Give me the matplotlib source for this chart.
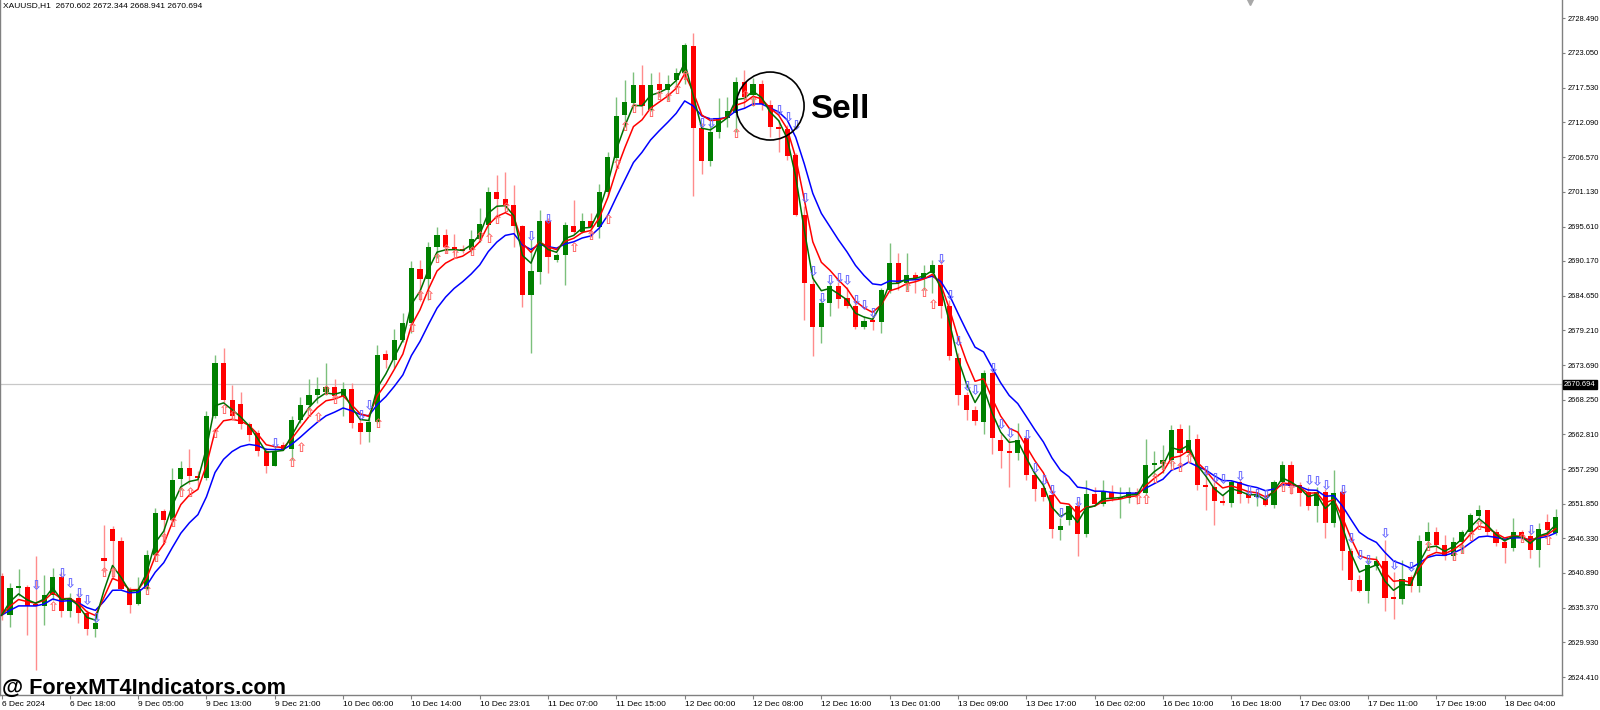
from matplotlib import pyplot as plt
from matplotlib.patches import Ellipse
import matplotlib.transforms as mtransforms
import pandas as pd

# XAUUSD H1 candles (oldest first)
opens = [2640.4, 2634.2, 2638.5, 2638.6, 2635.9, 2635.6, 2637.4, 2640.3, 2634.8, 2637.0,
         2634.6, 2632.0, 2643.2, 2647.8, 2646.0, 2638.3, 2635.9, 2638.3, 2643.7, 2650.6,
         2649.3, 2655.7, 2657.4, 2656.2, 2655.9, 2665.6, 2674.0, 2668.2, 2667.6, 2664.4,
         2663.0, 2660.1, 2657.8, 2661.1, 2660.4, 2665.0, 2667.4, 2669.0, 2669.5, 2670.2,
         2668.9, 2669.9, 2664.6, 2663.2, 2664.8, 2675.4, 2674.5, 2677.7, 2680.3, 2688.9,
         2687.4, 2692.3, 2694.3, 2692.4, 2692.0, 2691.9, 2693.6, 2695.9, 2701.1, 2699.9,
         2699.0, 2695.7, 2684.8, 2688.5, 2696.5, 2690.4, 2691.1, 2695.7, 2694.7, 2696.5,
         2695.6, 2701.0, 2706.4, 2713.2, 2715.2, 2718.0, 2714.1, 2718.1, 2717.2, 2718.7,
         2719.8, 2724.1, 2711.1, 2706.0, 2710.6, 2712.7, 2713.6, 2718.5, 2716.4, 2718.1,
         2714.8, 2711.4, 2711.0, 2706.9, 2697.4, 2686.6, 2679.7, 2683.5, 2686.2, 2684.3,
         2683.1, 2679.8, 2680.9, 2680.6, 2685.6, 2689.9, 2686.7, 2688.0, 2687.5, 2688.2,
         2689.5, 2683.1, 2674.8, 2669.0, 2666.7, 2664.8, 2672.4, 2661.9, 2660.1, 2659.8,
         2662.2, 2656.4, 2654.3, 2653.2, 2647.6, 2649.3, 2651.4, 2647.1, 2653.4, 2651.8,
         2653.7, 2652.5, 2652.8, 2653.6, 2653.5, 2658.0, 2658.1, 2658.8, 2663.6, 2659.9,
         2662.0, 2654.8, 2654.4, 2652.2, 2652.0, 2655.3, 2653.4, 2652.9, 2652.5, 2651.6,
         2655.2, 2657.9, 2654.8, 2653.6, 2651.5, 2653.7, 2648.8, 2653.7, 2644.3, 2639.7,
         2638.1, 2642.0, 2642.7, 2637.1, 2636.7, 2640.2, 2638.8, 2646.0, 2647.3, 2645.3,
         2643.5, 2645.8, 2647.3, 2649.9, 2650.8, 2647.3, 2645.7, 2644.9, 2647.4, 2646.7,
         2644.5, 2648.9, 2647.2]
highs = [2640.9, 2639.3, 2641.5, 2638.9, 2643.5, 2640.6, 2641.6, 2641.1, 2637.7, 2637.7,
         2635.0, 2633.7, 2648.5, 2648.3, 2646.6, 2638.7, 2640.3, 2644.5, 2651.1, 2651.0,
         2657.4, 2658.5, 2660.4, 2657.0, 2666.4, 2675.3, 2676.4, 2670.6, 2669.4, 2664.8,
         2663.5, 2660.6, 2660.9, 2661.6, 2665.6, 2668.7, 2671.5, 2671.8, 2674.0, 2671.6,
         2671.0, 2670.9, 2665.3, 2665.6, 2676.9, 2676.1, 2679.4, 2681.9, 2690.2, 2690.4,
         2693.2, 2695.6, 2695.3, 2694.5, 2692.7, 2695.1, 2698.5, 2701.9, 2703.7, 2704.3,
         2702.2, 2695.9, 2693.5, 2698.3, 2696.9, 2691.4, 2696.4, 2699.8, 2697.7, 2697.7,
         2702.3, 2707.4, 2716.1, 2718.7, 2720.1, 2721.1, 2719.8, 2720.1, 2719.6, 2720.6,
         2724.6, 2726.2, 2711.9, 2711.9, 2715.9, 2716.1, 2719.3, 2720.4, 2719.0, 2718.8,
         2715.6, 2712.4, 2711.7, 2707.2, 2698.8, 2687.7, 2684.3, 2686.9, 2686.9, 2686.1,
         2684.0, 2681.4, 2681.6, 2685.9, 2693.0, 2691.5, 2691.4, 2688.5, 2689.5, 2690.3,
         2690.3, 2684.0, 2675.6, 2669.5, 2667.2, 2672.9, 2672.9, 2662.9, 2662.2, 2664.5,
         2662.4, 2656.9, 2654.8, 2653.7, 2649.5, 2651.6, 2652.2, 2655.6, 2654.5, 2655.6,
         2654.8, 2654.5, 2654.5, 2654.3, 2662.0, 2660.1, 2661.1, 2664.3, 2664.4, 2664.3,
         2662.9, 2656.9, 2655.3, 2653.2, 2655.6, 2655.8, 2654.0, 2653.7, 2653.2, 2655.6,
         2658.6, 2658.5, 2655.3, 2654.4, 2654.5, 2654.1, 2657.2, 2654.3, 2644.8, 2640.6,
         2643.0, 2643.5, 2646.1, 2641.1, 2642.9, 2640.6, 2646.9, 2649.0, 2648.2, 2646.9,
         2646.6, 2647.7, 2650.3, 2651.6, 2650.8, 2647.9, 2646.1, 2649.5, 2647.7, 2647.9,
         2648.7, 2650.2, 2651.0]
lows = [2633.5, 2632.3, 2637.2, 2631.1, 2625.6, 2632.7, 2636.6, 2634.0, 2634.0, 2632.9,
        2631.1, 2630.8, 2641.0, 2640.0, 2638.2, 2634.5, 2635.8, 2638.2, 2643.0, 2645.5,
        2648.5, 2654.0, 2655.0, 2654.5, 2655.6, 2665.3, 2667.7, 2665.1, 2663.6, 2661.8,
        2659.3, 2656.7, 2657.7, 2660.3, 2658.7, 2664.5, 2666.6, 2667.7, 2669.0, 2668.5,
        2665.6, 2663.8, 2661.3, 2661.6, 2664.6, 2673.2, 2673.2, 2677.4, 2678.8, 2683.8,
        2684.0, 2690.6, 2691.4, 2691.1, 2691.4, 2691.4, 2693.2, 2694.3, 2696.9, 2698.2,
        2692.4, 2682.9, 2675.6, 2686.6, 2688.2, 2690.0, 2686.4, 2694.5, 2694.6, 2694.0,
        2693.8, 2700.5, 2705.9, 2711.4, 2714.3, 2713.2, 2713.8, 2716.1, 2715.6, 2717.4,
        2718.2, 2700.4, 2703.9, 2705.1, 2709.6, 2711.4, 2710.6, 2714.4, 2714.7, 2714.0,
        2709.8, 2707.4, 2706.1, 2697.2, 2680.9, 2675.1, 2677.2, 2681.4, 2682.7, 2682.7,
        2679.5, 2679.4, 2679.3, 2678.8, 2685.1, 2685.6, 2685.6, 2685.1, 2685.6, 2685.1,
        2681.1, 2674.5, 2667.4, 2665.1, 2664.3, 2662.9, 2659.7, 2657.4, 2654.5, 2658.7,
        2655.6, 2652.2, 2652.2, 2646.4, 2646.1, 2648.5, 2643.5, 2646.6, 2651.5, 2651.4,
        2652.3, 2649.5, 2652.0, 2651.8, 2653.2, 2656.4, 2656.6, 2657.7, 2657.7, 2659.5,
        2654.0, 2650.8, 2648.5, 2651.6, 2651.3, 2652.0, 2652.0, 2651.4, 2651.5, 2651.1,
        2654.4, 2653.4, 2651.4, 2650.8, 2649.0, 2646.4, 2648.2, 2641.4, 2638.1, 2637.9,
        2636.2, 2641.4, 2634.8, 2633.6, 2636.0, 2637.9, 2637.8, 2645.0, 2644.4, 2642.9,
        2642.9, 2644.1, 2646.6, 2649.5, 2646.9, 2645.2, 2642.5, 2644.4, 2646.1, 2643.2,
        2641.9, 2646.9, 2646.9]
closes = [2634.2, 2638.5, 2638.8, 2635.7, 2635.6, 2637.4, 2640.3, 2634.8, 2637.0, 2634.6,
          2632.0, 2633.0, 2642.8, 2646.0, 2638.3, 2635.8, 2638.3, 2643.7, 2650.4, 2649.3,
          2655.6, 2657.4, 2656.2, 2655.9, 2665.6, 2674.0, 2668.2, 2665.6, 2664.4, 2662.7,
          2660.1, 2657.8, 2660.2, 2660.4, 2665.0, 2667.4, 2669.0, 2669.9, 2670.2, 2668.9,
          2669.9, 2664.6, 2663.2, 2664.8, 2675.3, 2674.5, 2677.7, 2680.3, 2689.0, 2687.4,
          2692.3, 2694.3, 2692.3, 2692.0, 2691.7, 2693.6, 2696.0, 2701.1, 2699.9, 2699.0,
          2695.7, 2684.8, 2688.6, 2696.5, 2690.8, 2691.1, 2695.9, 2694.7, 2696.5, 2695.6,
          2701.0, 2706.6, 2713.1, 2715.3, 2718.0, 2714.6, 2718.0, 2717.2, 2718.1, 2719.9,
          2724.3, 2711.1, 2706.0, 2710.6, 2712.7, 2713.8, 2718.5, 2716.1, 2718.1, 2715.0,
          2711.4, 2711.0, 2706.7, 2697.4, 2686.7, 2679.8, 2683.5, 2686.2, 2684.1, 2683.1,
          2679.8, 2680.7, 2680.6, 2685.6, 2689.9, 2686.7, 2688.0, 2687.5, 2688.2, 2689.5,
          2683.1, 2675.1, 2669.0, 2666.7, 2664.9, 2672.4, 2662.2, 2660.1, 2659.9, 2661.9,
          2656.4, 2654.1, 2652.9, 2647.8, 2648.3, 2651.4, 2647.1, 2653.4, 2651.8, 2653.7,
          2652.8, 2652.9, 2653.6, 2653.4, 2657.9, 2658.2, 2658.8, 2663.5, 2659.9, 2661.9,
          2654.8, 2654.5, 2652.2, 2652.0, 2655.3, 2653.4, 2652.7, 2653.2, 2651.6, 2655.3,
          2657.9, 2654.6, 2653.5, 2651.5, 2653.7, 2648.8, 2653.5, 2644.3, 2639.8, 2638.0,
          2642.2, 2642.7, 2637.0, 2636.7, 2640.0, 2638.8, 2646.0, 2647.4, 2645.3, 2643.5,
          2645.8, 2647.4, 2650.0, 2650.8, 2647.3, 2645.6, 2644.9, 2647.4, 2646.5, 2644.5,
          2647.9, 2647.6, 2649.8]

# signal arrows: bar index and price where the indicator printed them
buy_idx = [6, 12, 13, 17, 18, 19, 20, 21, 22, 25, 26, 27, 34, 35, 36, 37, 38, 39, 44,
           48, 49, 50, 51, 52, 53, 55, 56, 57, 58, 59, 67, 69, 71, 72, 73, 74, 76, 77,
           78, 79, 80, 86, 87, 88, 106, 108, 109, 133, 134, 135, 136, 137, 138, 139,
           150, 151, 167, 170, 171, 172, 173, 178, 181]
buy_px = [2635.5, 2640.8, 2640.8, 2637.9, 2643.2, 2646.1, 2648.7, 2653.5, 2653.5, 2662.7,
          2666.6, 2665.6, 2658.2, 2660.6, 2666.1, 2665.3, 2669.5, 2668.2, 2664.4,
          2679.5, 2684.5, 2684.5, 2690.4, 2691.8, 2691.1, 2691.5, 2693.9, 2693.6, 2696.6,
          2698.5, 2692.2, 2694.0, 2696.6, 2705.3, 2711.3, 2714.1, 2713.5, 2716.1,
          2715.9, 2717.1, 2719.3, 2710.1, 2716.1, 2715.2, 2685.9, 2685.1, 2683.2, 2652.4,
          2652.3, 2655.7, 2657.7, 2657.7, 2657.4, 2658.8, 2654.3, 2653.9, 2644.9, 2643.4,
          2644.5, 2646.5, 2648.2, 2646.1, 2645.8]
sell_idx = [4, 7, 8, 9, 10, 11, 32, 42, 43, 62, 64, 82, 83, 91, 92, 93, 94, 95, 96, 97,
            98, 99, 100, 101, 102, 110, 111, 112, 113, 114, 116, 117, 118, 120, 121, 122,
            123, 124, 126, 141, 142, 143, 145, 146, 147, 148, 153, 154, 155, 157, 158,
            159, 160, 162, 163, 165, 179]
sell_px = [2638.8, 2640.6, 2639.0, 2637.4, 2636.3, 2633.5, 2661.1, 2665.6, 2667.1, 2693.8,
           2696.6, 2711.7, 2711.7, 2713.8, 2712.6, 2711.4, 2699.8, 2688.3, 2684.0, 2686.9,
           2687.2, 2686.9, 2683.8, 2683.0, 2681.7, 2690.3, 2684.5, 2677.2, 2670.1, 2669.5,
           2673.0, 2664.1, 2662.7, 2662.4, 2657.2, 2655.3, 2653.7, 2650.1, 2651.9, 2656.7,
           2655.7, 2655.5, 2656.0, 2653.6, 2653.1, 2652.9, 2655.3, 2655.1, 2654.6, 2653.7,
           2646.1, 2643.5, 2642.7, 2646.9, 2641.9, 2641.6, 2647.4]

date_labels = ["6 Dec 2024", "6 Dec 18:00", "9 Dec 05:00", "9 Dec 13:00", "9 Dec 21:00",
               "10 Dec 06:00", "10 Dec 14:00", "10 Dec 23:01", "11 Dec 07:00", "11 Dec 15:00",
               "12 Dec 00:00", "12 Dec 08:00", "12 Dec 16:00", "13 Dec 01:00", "13 Dec 09:00",
               "13 Dec 17:00", "16 Dec 02:00", "16 Dec 10:00", "16 Dec 18:00", "17 Dec 03:00",
               "17 Dec 11:00", "17 Dec 19:00", "18 Dec 04:00"]
price_labels = [2728.490, 2723.050, 2717.530, 2712.090, 2706.570, 2701.130, 2695.610,
                2690.170, 2684.650, 2679.210, 2673.690, 2668.250, 2662.810, 2657.290,
                2651.850, 2646.330, 2640.890, 2635.370, 2629.930, 2624.410]
last_price = 2670.694
header = "XAUUSD,H1  2670.602 2672.344 2668.941 2670.694"

plt.rcParams['font.family'] = ['Liberation Sans', 'DejaVu Sans']

df = pd.DataFrame({'o': opens, 'h': highs, 'l': lows, 'c': closes})
n = len(df)
x = list(range(n))

# the three moving averages of the indicator
ma_fast = df['c'].ewm(span=3, adjust=False).mean()
ma_mid = df['c'].ewm(span=5, adjust=False).mean()
ma_slow = df['c'].ewm(span=10, adjust=False).mean()

fig = plt.figure(figsize=(16, 7.1), dpi=100)
ax = fig.add_axes([0, 15 / 710, 1562 / 1600, 695 / 710])

ax.axhline(last_price, color='#c8c8c8', lw=0.9, zorder=0)

up = df['c'] >= df['o']
wick_col = ['#7cc07c' if u else '#ff8c8c' for u in up]
body_col = ['#008000' if u else '#ff0000' for u in up]
ax.vlines(x, df['l'], df['h'], colors=wick_col, lw=1.0, zorder=1)
body_h = (df['c'] - df['o']).abs().clip(lower=0.22)
body_b = df[['o', 'c']].min(axis=1)
ax.bar(x, body_h, bottom=body_b, width=0.6, color=body_col, lw=0, zorder=2)

ax.plot(x, ma_slow, color='#0000ff', lw=1.1, zorder=3)
ax.plot(x, ma_mid, color='#ff0000', lw=1.1, zorder=3)
ax.plot(x, ma_fast, color='#007000', lw=1.1, zorder=3)

# hollow arrows of the signal indicator
for i, p in zip(buy_idx, buy_px):
    ax.text(i, p, '\u21e7', color='#ff6464', fontsize=9.5, weight='bold', ha='center',
            va='center', family=['DejaVu Sans'], zorder=4)
for i, p in zip(sell_idx, sell_px):
    ax.text(i, p, '\u21e9', color='#6464ff', fontsize=9.5, weight='bold', ha='center',
            va='center', family=['DejaVu Sans'], zorder=4)

# limits so that bar 0 sits at the left edge like the terminal
ax.set_xlim(-0.176, 182.73)
ax.set_ylim(2621.6, 2731.4)

ax.yaxis.tick_right()
ax.set_yticks(price_labels)
ax.set_yticklabels(['%.3f' % p for p in price_labels])
ax.set_xticks(range(0, 8 * len(date_labels), 8))
ax.set_xticklabels(date_labels, ha='left')
ax.tick_params(axis='both', labelsize=6, colors='#808080', labelcolor='black',
               length=3, width=0.8, pad=1.5)
ax.tick_params(axis='y', labelsize=5.4, length=2.5, pad=1.5)
for s in ['left', 'right', 'bottom']:
    ax.spines[s].set_color('#808080')
    ax.spines[s].set_linewidth(1.0)
ax.spines['top'].set_visible(False)

# current price tag on the axis
trans = mtransforms.blended_transform_factory(ax.transAxes, ax.transData)
ax.text(1.0012, last_price, '%.3f' % last_price, transform=trans, color='white',
        fontsize=5.4, va='center', ha='left', clip_on=False,
        bbox=dict(boxstyle='square,pad=0.15', fc='black', ec='black'))

# chart shift marker
ax.plot([0.8], [0.997], marker='v', color='#a8a8a8', ms=5, transform=ax.transAxes,
        clip_on=False)

# "Sell" note with circle
ax.add_patch(Ellipse((90.0, 2714.65), 7.96, 10.74, fill=False, ec='black', lw=1.2, zorder=5))
fig.text(810 / 1600, 1 - 110 / 710, 'Sell', fontsize=24, weight='bold', va='center',
         ha='left')

fig.text(3 / 1600, 1 - 6 / 710, header, fontsize=6, va='center', ha='left')
fig.text(2 / 1600, 1 - 694 / 710, '@ ForexMT4Indicators.com', fontsize=15.6,
         weight='bold', va='baseline', ha='left')

plt.savefig('out.png', dpi=100, facecolor='white')
